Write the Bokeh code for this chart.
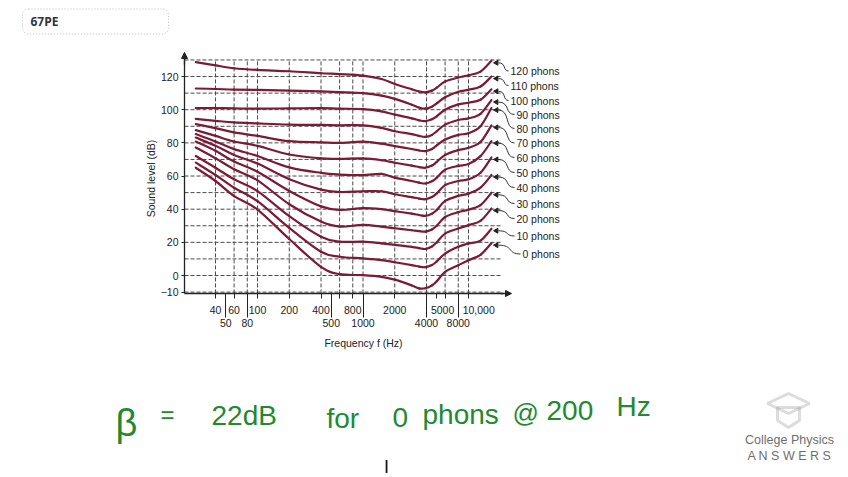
import math

from bokeh.core.properties import value
from bokeh.embed import file_html
from bokeh.models import (Arrow, FixedTicker, Label, LogAxis, NormalHead,
                          PolyAnnotation, Range1d)
from bokeh.plotting import figure
from bokeh.resources import INLINE

freq = [26, 40, 60, 100, 200, 400, 600, 1000, 1500, 2000, 2900, 3400, 3900,
        4500, 5000, 6000, 8000, 10000, 13000, 16500]

phon_120 = [128.7, 126.7, 125.0, 124.0, 123.2, 122.0, 121.5, 120.6, 118.5, 115.5,
            112.3, 111.0, 110.5, 111.5, 113.3, 117.0, 119.4, 120.8, 123.0, 129.5]
phon_110 = [112.8, 112.5, 112.1, 111.9, 111.5, 111.0, 110.6, 110.0, 108.5, 106.5,
            103.0, 101.3, 100.6, 101.8, 103.8, 107.5, 110.8, 112.0, 114.0, 120.0]
phon_100 = [101.0, 101.0, 100.8, 100.6, 100.8, 101.0, 100.6, 100.4, 99.0, 97.0,
            94.8, 93.6, 93.1, 94.2, 96.0, 100.0, 103.2, 104.2, 106.0, 112.3]
phon_90 = [94.5, 93.3, 92.3, 91.7, 91.0, 90.8, 90.6, 90.6, 89.0, 87.0,
           85.3, 84.2, 83.6, 84.8, 87.0, 91.0, 93.8, 94.8, 97.5, 105.8]
phon_80 = [91.3, 88.9, 86.3, 84.2, 81.0, 80.3, 80.0, 80.7, 79.5, 78.0,
           76.3, 75.4, 75.0, 76.3, 78.5, 82.0, 84.8, 85.8, 90.0, 101.0]
phon_70 = [87.7, 84.2, 80.8, 78.2, 73.0, 70.6, 70.4, 70.6, 69.5, 68.0,
           66.3, 65.4, 65.0, 66.3, 68.5, 72.7, 75.6, 77.0, 80.5, 90.5]
phon_60 = [85.3, 80.8, 76.2, 72.1, 65.2, 61.9, 60.9, 60.5, 61.3, 59.0,
           57.0, 56.0, 55.5, 56.8, 59.0, 63.8, 66.1, 67.2, 72.0, 81.0]
phon_50 = [83.2, 78.2, 72.7, 67.5, 58.1, 51.8, 50.4, 50.8, 50.8, 49.0,
           47.3, 46.4, 46.0, 47.3, 49.5, 54.5, 57.0, 58.0, 62.0, 71.2]
phon_40 = [80.8, 75.2, 68.7, 62.6, 51.0, 41.7, 39.6, 40.6, 40.0, 38.8,
           37.3, 36.5, 36.0, 37.3, 39.5, 45.0, 48.0, 49.4, 53.0, 60.6]
phon_30 = [77.2, 70.7, 64.1, 57.4, 43.0, 32.5, 29.5, 30.5, 29.5, 28.5,
           27.3, 26.8, 26.5, 27.8, 30.0, 35.3, 38.2, 39.7, 42.5, 49.9]
phon_20 = [72.1, 65.0, 58.0, 50.9, 35.8, 23.4, 20.4, 20.4, 19.4, 18.5,
           17.3, 16.5, 16.0, 17.5, 20.0, 25.3, 28.3, 30.4, 33.0, 40.4]
phon_10 = [68.1, 60.6, 52.9, 44.8, 28.7, 14.3, 11.3, 10.3, 9.3, 8.0,
           6.3, 5.4, 5.0, 6.3, 8.5, 13.2, 17.3, 19.3, 21.0, 28.2]
phon_0 = [65.0, 57.0, 47.9, 39.8, 22.0, 5.2, 0.8, 0.2, -0.8, -2.5,
          -6.0, -7.8, -7.7, -6.0, -3.5, 2.2, 6.2, 9.2, 12.5, 19.5]

phons = [120, 110, 100, 90, 80, 70, 60, 50, 40, 30, 20, 10, 0]
contours = [phon_120, phon_110, phon_100, phon_90, phon_80, phon_70, phon_60,
            phon_50, phon_40, phon_30, phon_20, phon_10, phon_0]

y_ticks = [-10, 0, 20, 40, 60, 80, 100, 120]
x_ticks_row1 = [40, 60, 100, 200, 400, 600, 800, 2000, 5000, 6000, 10000]
x_ticks_row2 = [50, 80, 500, 1000, 4000, 8000]
grid_freqs = [40, 60, 80, 100, 200, 400, 600, 800, 1000, 2000, 4000, 6000, 8000, 10000]
grid_levels = list(range(-10, 131, 10))

# page pixel -> data helpers, only used to place decorations
X100, DECADE = 257, 105.5
Y0DB, PX_PER_DB = 275, 1.658
W, H = 848, 477


def hz(px):
    return 10 ** (2 + (px - X100) / DECADE)


def db(py):
    return (Y0DB - py) / PX_PER_DB


def page_x(f):
    return X100 + DECADE * (math.log10(f) - 2)


def page_y(level):
    return Y0DB - level * PX_PER_DB


def smooth(xs, ys):
    # cubic pieces through every read point (Catmull-Rom in log-f space)
    lx = [math.log10(v) for v in xs]
    n = len(lx)
    seg = dict(x0=[], y0=[], x1=[], y1=[], cx0=[], cy0=[], cx1=[], cy1=[])
    for i in range(n - 1):
        a, b = max(i - 1, 0), min(i + 2, n - 1)
        seg["x0"].append(xs[i])
        seg["y0"].append(ys[i])
        seg["x1"].append(xs[i + 1])
        seg["y1"].append(ys[i + 1])
        seg["cx0"].append(10 ** (lx[i] + (lx[i + 1] - lx[a]) / 6))
        seg["cy0"].append(ys[i] + (ys[i + 1] - ys[a]) / 6)
        seg["cx1"].append(10 ** (lx[i + 1] - (lx[b] - lx[i]) / 6))
        seg["cy1"].append(ys[i + 1] - (ys[b] - ys[i]) / 6)
    return seg


INK = "#222222"
FONT = value("Liberation Sans")

p = figure(width=W, height=H, x_axis_type="log",
           x_range=Range1d(hz(0), hz(W)), y_range=Range1d(db(H), db(0)),
           min_border=0, toolbar_location=None, output_backend="svg")
p.outline_line_color = None
p.grid.visible = False

# dashed grid, bounded like the printed one
p.segment(x0=[hz(184)] * len(grid_levels), x1=[hz(500)] * len(grid_levels),
          y0=grid_levels, y1=grid_levels, line_color="#4a4a4a", line_width=1,
          line_dash="4 2")
p.segment(x0=grid_freqs, x1=grid_freqs, y0=[-10.8] * len(grid_freqs),
          y1=[130] * len(grid_freqs), line_color="#4a4a4a", line_width=1,
          line_dash="4 2")

for vals in contours:
    p.bezier(line_color="#7a1b37", line_width=2.2, line_cap="round",
             **smooth(freq, vals))

# phon labels with their curled leaders
label_x = [510, 510, 510, 516, 516, 516, 516, 516, 516, 516, 516, 516, 522]
label_y = [70.5, 85, 100, 114, 128, 142.5, 157, 172, 187, 203, 218, 235.5, 253.5]
tips_x, tips_y = [], []
bz = dict(x0=[], y0=[], x1=[], y1=[], cx0=[], cy0=[], cx1=[], cy1=[])
for vals, lx, ly in zip(contours, label_x, label_y):
    sx = page_x(freq[-1]) + 5
    sy = page_y(vals[-1]) + 2
    ex = lx - 2
    tips_x.append(hz(sx))
    tips_y.append(db(sy))
    bz["x0"].append(hz(sx + 2))
    bz["y0"].append(db(sy))
    bz["x1"].append(hz(ex))
    bz["y1"].append(db(ly))
    bz["cx0"].append(hz(sx + 2 + (ex - sx) * 0.65))
    bz["cy0"].append(db(sy))
    bz["cx1"].append(hz(sx + 2 + (ex - sx) * 0.35))
    bz["cy1"].append(db(ly))
p.bezier(line_color="#333333", line_width=1, **bz)
p.scatter(tips_x, tips_y, marker="triangle", angle=math.pi / 2, size=5,
          fill_color=INK, line_color=INK)
p.text(x=[hz(x) for x in label_x], y=[db(y) for y in label_y],
       text=[f"{v} phons" for v in phons], text_font=FONT,
       text_font_size="10.5px", text_baseline="middle", text_color=INK)

# axes, pinned where the printed axes cross
ya = p.yaxis[0]
ya.fixed_location = hz(184)
ya.ticker = FixedTicker(ticks=y_ticks)
ya.major_label_overrides = {-10: "\u221210"}
ya.bounds = (db(293), db(56))

nb = "\u00a0"
row1_text = {t: str(t) for t in x_ticks_row1}
row1_text.update({600: "", 6000: "", 5000: nb * 4 + "5000", 10000: nb * 7 + "10,000"})
xa = p.xaxis[0]
xa.fixed_location = db(293)
xa.ticker = FixedTicker(ticks=x_ticks_row1)
xa.major_label_overrides = row1_text
xa.bounds = (hz(184), hz(503))

xa2 = LogAxis(ticker=FixedTicker(ticks=x_ticks_row2), fixed_location=db(293),
              major_label_overrides={t: str(t) for t in x_ticks_row2},
              bounds=(hz(184), hz(503)))
p.add_layout(xa2, "below")

for ax in (ya, xa, xa2):
    ax.axis_line_color = INK
    ax.axis_line_width = 1.3
    ax.major_tick_line_color = INK
    ax.major_tick_in = 0
    ax.minor_tick_in = 0
    ax.minor_tick_out = 0
    ax.major_label_text_font = "Liberation Sans"
    ax.major_label_text_font_size = "10.5px"
    ax.major_label_text_color = INK

ya.major_tick_out = 3
ya.major_label_standoff = 3
xa.major_tick_out = 5
xa.major_label_standoff = 5
xa2.axis_line_color = None
xa2.major_tick_out = 24
xa2.major_label_standoff = 1

p.text(x=[hz(150)], y=[db(178)], text=["Sound level (dB)"], angle=math.pi / 2,
       text_font=FONT, text_font_size="10.5px", text_color=INK,
       text_align="center", text_baseline="middle")
p.text(x=[hz(363)], y=[db(342)], text=["Frequency f (Hz)"],
       text_font=FONT, text_font_size="10.5px", text_color=INK,
       text_align="center", text_baseline="middle")

head = dict(size=6, fill_color=INK, line_color=INK)
p.add_layout(Arrow(end=NormalHead(**head), x_start=hz(500), y_start=db(293),
                   x_end=hz(511), y_end=db(293), line_color=INK, line_width=1.3))
p.add_layout(Arrow(end=NormalHead(**head), x_start=hz(184), y_start=db(64),
                   x_end=hz(184), y_end=db(52), line_color=INK, line_width=1.3))

# page furniture around the chart
p.add_layout(Label(x=hz(22), y=db(21), text="67PE", text_font="Open Sans",
                   text_font_size="12px", text_font_style="bold", text_color="#333333",
                   text_baseline="middle", border_line_color="#bbbbbb",
                   border_line_dash="1 2", border_radius=6,
                   padding=dict(left=8, right=110, top=4, bottom=4)))

green = "#22892f"
hand = [("\u03b2", 115, 422, "38px"), ("=", 160, 414, "24px"), ("22dB", 211, 415, "28px"),
        ("for", 326, 418, "28px"), ("0", 392, 417, "28px"), ("phons", 422, 414, "28px"),
        ("@", 512, 412, "26px"), ("200", 546, 410, "28px"), ("Hz", 616, 406, "28px")]
for txt, x, y, size in hand:
    p.add_layout(Label(x=hz(x), y=db(y), text=txt, text_font="Liberation Sans",
                       text_font_size=size, text_color=green,
                       text_baseline="alphabetic"))
p.add_layout(Label(x=hz(386), y=db(466), text="I", text_font="Liberation Sans",
                   text_font_size="18px", text_color="#111111",
                   text_baseline="middle", text_align="center"))

p.add_layout(PolyAnnotation(xs=[hz(788), hz(809), hz(788), hz(767)],
                            ys=[db(393), db(403), db(413), db(403)],
                            line_color="#8a8a8a", line_width=3,
                            fill_color="#ffffff", fill_alpha=1))
p.add_layout(PolyAnnotation(xs=[hz(777), hz(777), hz(788), hz(799), hz(799)],
                            ys=[db(407), db(420), db(427), db(420), db(407)],
                            line_color="#8a8a8a", line_width=3,
                            fill_color="#ffffff", fill_alpha=0))
p.add_layout(Label(x=hz(789), y=db(439), text="College Physics",
                   text_font="Liberation Sans", text_font_size="12.5px",
                   text_color="#6e6e6e", text_baseline="middle", text_align="center"))
p.add_layout(Label(x=hz(789), y=db(455), text="A N S W E R S",
                   text_font="Liberation Sans", text_font_size="12.5px",
                   text_color="#6e6e6e", text_baseline="middle", text_align="center"))

open("out.html", "w").write(file_html(p, INLINE))
